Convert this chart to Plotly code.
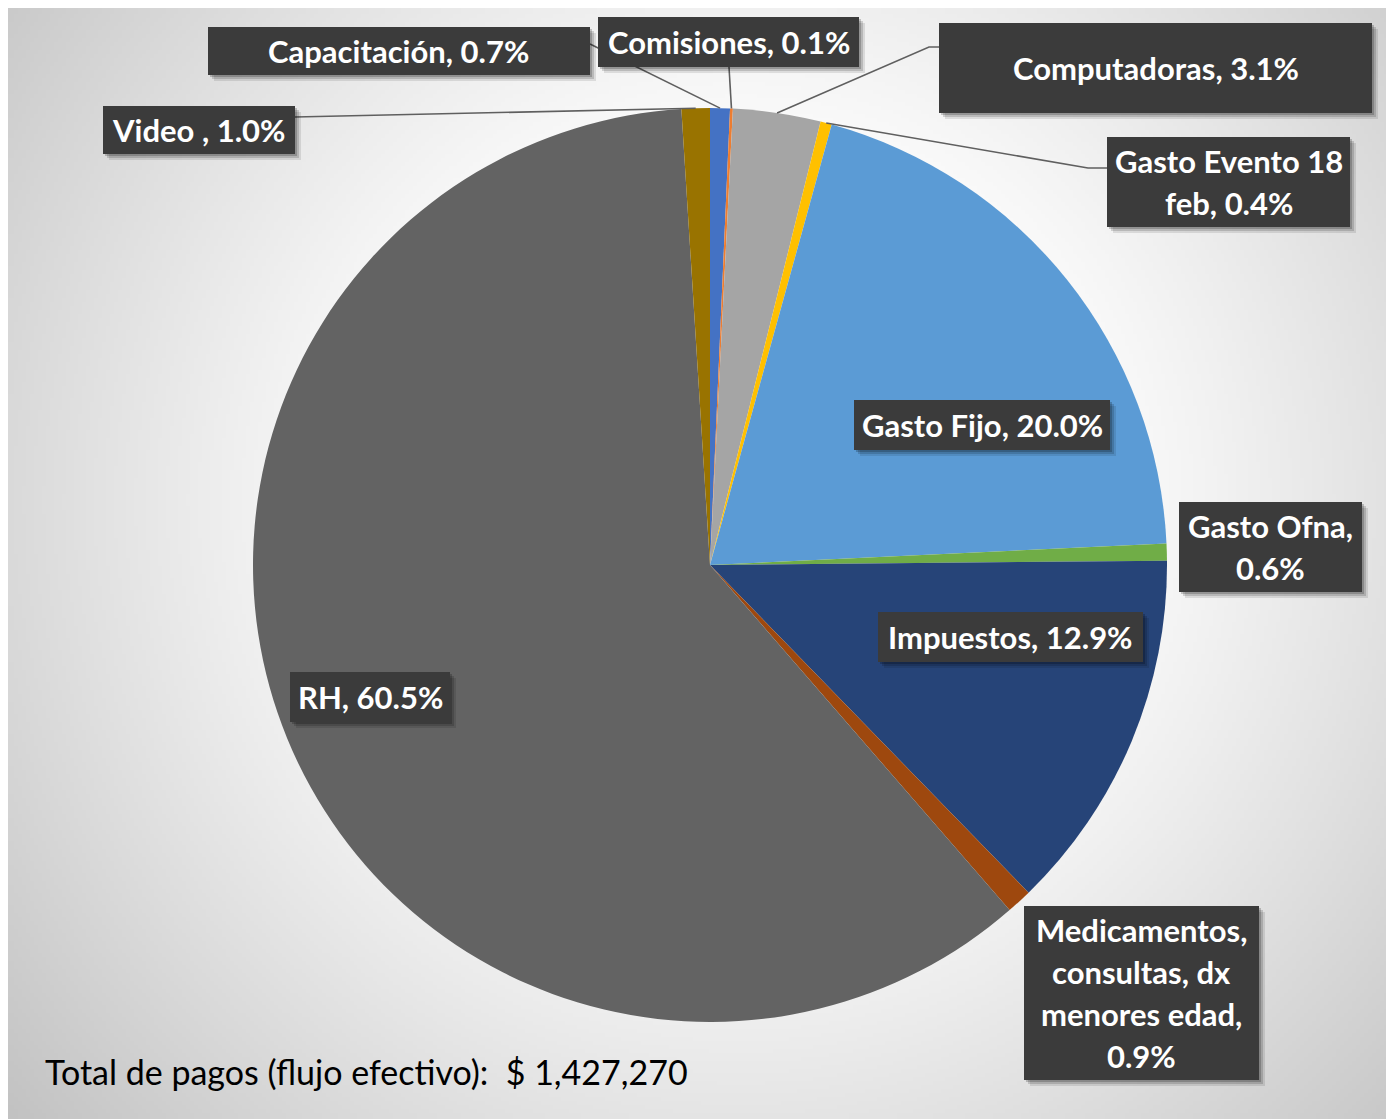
import base64
import struct
import zlib
import textwrap
import numpy as np
import plotly.graph_objects as go

# ---------------- data ----------------
categories = ["Capacitación", "Comisiones", "Computadoras", "Gasto Evento 18 feb",
              "Gasto Fijo", "Gasto Ofna", "Impuestos",
              "Medicamentos, consultas, dx menores edad", "RH", "Video "]
shares = [0.7, 0.1, 3.1, 0.4, 20.0, 0.6, 12.9, 0.9, 60.5, 1.0]
colors = ["#4472C4", "#ED7D31", "#A5A5A5", "#FFC000", "#5B9BD5",
          "#70AD47", "#264478", "#9E480E", "#636363", "#997300"]
total_pagos = 1427270

# ---------------- layout (screen pixels of the 1394x1119 page) ----------------
OFF = 8                      # page body margin
W, H = 1394 - OFF, 1119 - OFF
CX, CY, R = 710, 565, 457


def px(x):
    return (x - OFF) / W


def py(y):
    return 1 - (y - OFF) / H


# label boxes: (x0, y0, x1, y1), wrap width, leader path (box-side points, then slice anchor)
label_layout = [
    dict(box=(208, 27, 590, 75), wrap=None, lead=[(590, 44)]),
    dict(box=(598, 17, 859, 67), wrap=None, lead=[(729, 67)]),
    dict(box=(939, 23, 1372, 113), wrap=None, lead=[(939, 47), (929, 47)]),
    dict(box=(1107, 137, 1350, 227), wrap=15, lead=[(1107, 168), (1088, 168)]),
    dict(box=(854, 400, 1110, 450), wrap=None, lead=None),
    dict(box=(1179, 502, 1362, 592), wrap=11, lead=None),
    dict(box=(878, 612, 1143, 662), wrap=None, lead=None),
    dict(box=(1024, 906, 1259, 1080), wrap=14, lead=None),
    dict(box=(290, 672, 450, 722), wrap=None, lead=None),
    dict(box=(103, 106, 295, 154), wrap=None, lead=[(295, 117)]),
]

# ---------------- background gradient image ----------------
def png_data_uri(arr):
    h, w = arr.shape
    raw = b"".join(b"\x00" + arr[i].tobytes() for i in range(h))

    def chunk(t, d):
        return struct.pack(">I", len(d)) + t + d + struct.pack(">I", zlib.crc32(t + d) & 0xFFFFFFFF)

    png = (b"\x89PNG\r\n\x1a\n"
           + chunk(b"IHDR", struct.pack(">IIBBBBB", w, h, 8, 0, 0, 0, 0))
           + chunk(b"IDAT", zlib.compress(raw, 9))
           + chunk(b"IEND", b""))
    return "data:image/png;base64," + base64.b64encode(png).decode()


gw, gh = 347, 278
xs = np.linspace(OFF, OFF + W, gw)
ys = np.linspace(OFF, OFF + H, gh)
gx, gy = np.meshgrid(xs, ys)
d = np.sqrt((gx - 740) ** 2 + (gy - 500) ** 2)
t = np.clip((d - 380) / 620, 0, 1)
grad = (250 - 60 * t ** 1.1).astype(np.uint8)
bg_uri = png_data_uri(grad)

# ---------------- figure ----------------
fig = go.Figure()
fig.add_trace(go.Pie(
    labels=categories,
    values=shares,
    sort=False,
    direction="clockwise",
    rotation=0,
    marker=dict(colors=colors, line=dict(width=0)),
    textinfo="none",
    hoverinfo="label+percent",
    showlegend=False,
    domain=dict(x=[px(CX - R), px(CX + R)], y=[py(CY + R), py(CY - R)]),
))

vals = np.array(shares, dtype=float)
frac = (np.cumsum(vals) - vals / 2) / vals.sum()
theta = 2 * np.pi * frac
anchor_x = CX + R * np.sin(theta)
anchor_y = CY - R * np.cos(theta)

shapes = []
annotations = []

# leader lines first (below boxes)
for i, lay in enumerate(label_layout):
    if lay["lead"] is None:
        continue
    pts = list(lay["lead"]) + [(anchor_x[i], anchor_y[i])]
    path = "M " + " L ".join(f"{px(a):.5f},{py(b):.5f}" for a, b in pts)
    shapes.append(dict(type="path", path=path, xref="paper", yref="paper",
                       line=dict(color="#5f5f5f", width=1.6), layer="above"))

FONT = "Lato, 'Open Sans', sans-serif"
FS = 31
LINE = 42
for i, lay in enumerate(label_layout):
    x0, y0, x1, y1 = lay["box"]
    for off, alpha in ((6, 0.10), (4, 0.15), (2, 0.2)):
        shapes.append(dict(type="rect", xref="paper", yref="paper",
                           x0=px(x0 + off), x1=px(x1 + off), y0=py(y0 + off), y1=py(y1 + off),
                           fillcolor=f"rgba(0,0,0,{alpha})", line=dict(width=0), layer="above"))
    shapes.append(dict(type="rect", xref="paper", yref="paper",
                       x0=px(x0), x1=px(x1), y0=py(y0), y1=py(y1),
                       fillcolor="#3b3b3b", line=dict(width=0), layer="above"))
    text = f"{categories[i]}, {shares[i]:.1f}%"
    lines = textwrap.wrap(text, lay["wrap"]) if lay["wrap"] else [text]
    ccx = (x0 + x1) / 2
    ccy = (y0 + y1) / 2
    n = len(lines)
    for k, ln in enumerate(lines):
        yy = ccy + (k - (n - 1) / 2) * LINE
        annotations.append(dict(
            x=px(ccx), y=py(yy), xref="paper", yref="paper",
            text=f"<b>{ln}</b>", showarrow=False, xanchor="center", yanchor="middle",
            font=dict(family=FONT, size=FS, color="white")))

annotations.append(dict(
    x=px(43), y=py(1071), xref="paper", yref="paper",
    text=f"Total de pagos (flujo efectivo):\u00a0 $ {total_pagos:,}",
    showarrow=False, xanchor="left", yanchor="middle",
    font=dict(family=FONT, size=34, color="black")))

fig.update_layout(
    width=W, height=H,
    margin=dict(l=0, r=0, t=0, b=0),
    paper_bgcolor="white",
    plot_bgcolor="white",
    shapes=shapes,
    annotations=annotations,
    images=[dict(source=bg_uri, xref="paper", yref="paper",
                 x=0, y=1, sizex=1, sizey=1,
                 xanchor="left", yanchor="top", sizing="stretch", layer="below")],
)

fig.write_html("out.html")
